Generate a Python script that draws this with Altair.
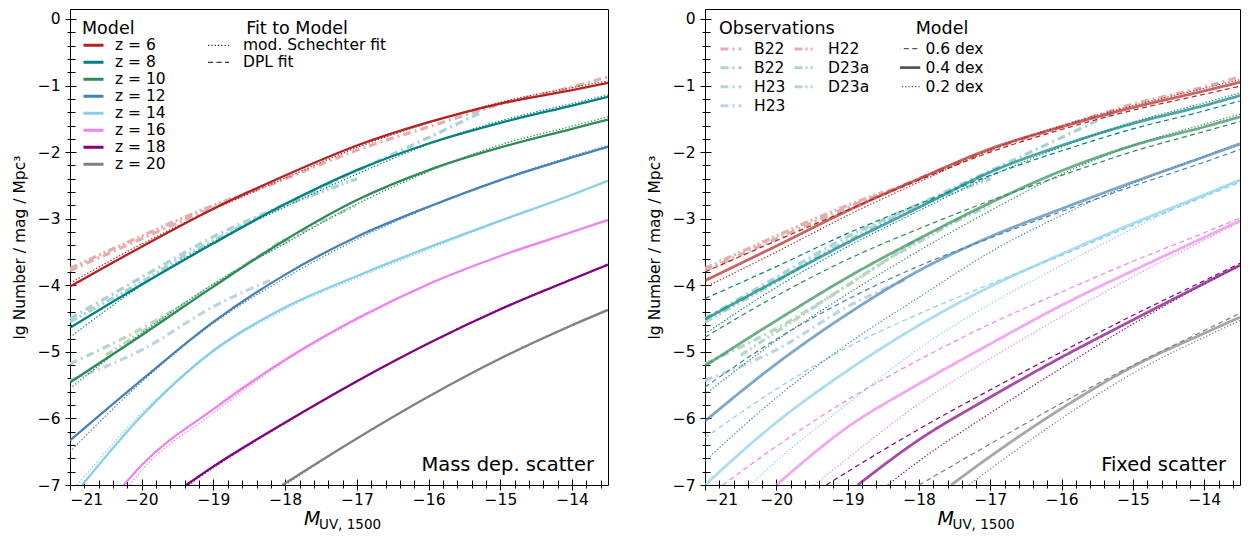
import altair as alt
import pandas as pd

FONT = "DejaVu Sans"

# ---------------- categories / styles ----------------
Z_LABELS = ["z = 6", "z = 8", "z = 10", "z = 12", "z = 14", "z = 16", "z = 18", "z = 20"]
Z_COLORS = ["#b22222", "#008080", "#2e8b57", "#4682b4", "#87ceeb", "#ee82ee", "#800080", "#808080"]

FIT_TYPES = ["mod. Schechter fit", "DPL fit"]
FIT_DASHES = [[1.3, 2], [5, 3.5]]

SIGMAS = ["0.6 dex", "0.4 dex", "0.2 dex"]
SIGMA_DASHES = [[5, 3.5], [1, 0], [1.3, 2]]
SIGMA_WIDTHS = {"0.6 dex": 1.2, "0.4 dex": 2.8, "0.2 dex": 1.2}
SIGMA_OPAC = {"0.6 dex": 1.0, "0.4 dex": 0.7, "0.2 dex": 1.0}

# legend fills column by column: B22, B22, H23, H23 | H22, D23a, D23a
OBS_KEYS = ["B22 z6", "B22 z8", "H23 z10", "H23 z12", "H22 z6", "D23a z8", "D23a z10"]
OBS_COLORS = ["#e6adad", "#a6d3d3", "#b6d7c4", "#bfd3e6", "#e6adad", "#a6d3d3", "#b6d7c4"]
DASHDOT = [8, 4, 2, 4]
DASHDOTDOT = [8, 3, 2, 3, 2, 3]
OBS_DASHES = [DASHDOT, DASHDOT, DASHDOT, DASHDOT, DASHDOTDOT, DASHDOTDOT, DASHDOTDOT]

PANEL_LABELS = ["Mass dep. scatter", "Fixed scatter"]
Y_TITLE = "lg Number / mag / Mpc\u00b3"
X_TITLE_MAIN = "M"
X_TITLE_SUB = "UV, 1500"

X_TICKS = [-21, -20, -19, -18, -17, -16, -15, -14]
Y_TICKS = [-7, -6, -5, -4, -3, -2, -1, 0]

LX = [-21, -20, -19, -18, -17, -16, -15, -14, -13.5]

# ---------------- left panel: model (mass dependent scatter) ----------------
left_model = {
    "z = 6": (LX, [-4.02, -3.42, -2.85, -2.35, -1.90, -1.55, -1.27, -1.07, -0.96]),
    "z = 8": (LX, [-4.64, -3.99, -3.37, -2.78, -2.27, -1.87, -1.56, -1.30, -1.17]),
    "z = 10": (LX, [-5.46, -4.75, -4.02, -3.32, -2.72, -2.27, -1.93, -1.65, -1.51]),
    "z = 12": (LX, [-6.33, -5.42, -4.55, -3.84, -3.27, -2.82, -2.42, -2.08, -1.92]),
    "z = 14": ([-20.83, -20, -19, -18, -17, -16, -15, -14, -13.5],
               [-7.0, -5.96, -4.98, -4.33, -3.86, -3.43, -3.03, -2.64, -2.43]),
    "z = 16": ([-20.25, -20, -19, -18, -17, -16, -15, -14, -13.5],
               [-7.0, -6.70, -5.86, -5.12, -4.50, -3.98, -3.56, -3.20, -3.02]),
    "z = 18": ([-19.38, -19, -18, -17, -16, -15, -14, -13.5],
               [-7.0, -6.72, -6.06, -5.44, -4.87, -4.36, -3.91, -3.69]),
    "z = 20": ([-18.04, -17, -16, -15, -14, -13.5],
               [-7.0, -6.30, -5.67, -5.10, -4.60, -4.37]),
}

left_schechter = {
    "z = 6": (LX, [-3.97, -3.38, -2.86, -2.39, -1.93, -1.56, -1.25, -1.03, -0.93]),
    "z = 8": (LX, [-4.78, -4.00, -3.35, -2.82, -2.33, -1.88, -1.53, -1.27, -1.14]),
    "z = 10": (LX, [-5.55, -4.72, -3.98, -3.37, -2.78, -2.29, -1.89, -1.61, -1.47]),
    "z = 12": (LX, [-6.50, -5.45, -4.57, -3.89, -3.31, -2.83, -2.41, -2.06, -1.90]),
    "z = 14": ([-20.90, -20, -19, -18, -17, -16, -15, -14, -13.5],
               [-7.0, -5.92, -5.00, -4.36, -3.89, -3.46, -3.04, -2.64, -2.42]),
    "z = 16": ([-20.17, -20, -19, -18, -17, -16, -15, -14, -13.5],
               [-7.0, -6.78, -5.92, -5.14, -4.52, -3.99, -3.56, -3.19, -3.01]),
    "z = 18": ([-19.35, -19, -18, -17, -16, -15, -14, -13.5],
               [-7.0, -6.74, -6.07, -5.44, -4.87, -4.35, -3.90, -3.68]),
    "z = 20": ([-18.00, -17, -16, -15, -14, -13.5],
               [-7.0, -6.30, -5.67, -5.09, -4.59, -4.36]),
}

# ---------------- right panel: fixed scatter models ----------------
right_04 = {
    "z = 6": (LX, [-3.93, -3.41, -2.88, -2.40, -1.95, -1.62, -1.33, -1.08, -0.95]),
    "z = 8": (LX, [-4.51, -3.93, -3.36, -2.83, -2.30, -1.90, -1.57, -1.30, -1.15]),
    "z = 10": (LX, [-5.21, -4.53, -3.88, -3.30, -2.76, -2.28, -1.90, -1.62, -1.47]),
    "z = 12": (LX, [-6.04, -5.18, -4.43, -3.78, -3.27, -2.85, -2.45, -2.07, -1.88]),
    "z = 14": (LX, [-7.0, -6.06, -5.28, -4.60, -4.02, -3.53, -3.07, -2.64, -2.42]),
    "z = 16": ([-20, -19, -18, -17, -16, -15, -14, -13.5],
               [-7.0, -6.13, -5.48, -4.88, -4.30, -3.78, -3.28, -3.03]),
    "z = 18": ([-18.86, -18, -17, -16, -15, -14, -13.5],
               [-7.0, -6.32, -5.68, -5.08, -4.52, -3.97, -3.70]),
    "z = 20": ([-17.55, -17, -16, -15, -14, -13.5],
               [-7.0, -6.57, -5.85, -5.22, -4.72, -4.48]),
}

right_06 = {
    "z = 6": (LX, [-3.80, -3.33, -2.87, -2.42, -2.00, -1.66, -1.37, -1.13, -1.01]),
    "z = 8": (LX, [-4.20, -3.72, -3.22, -2.78, -2.35, -1.98, -1.65, -1.38, -1.23]),
    "z = 10": (LX, [-4.78, -4.16, -3.61, -3.15, -2.73, -2.35, -1.99, -1.69, -1.54]),
    "z = 12": (LX, [-5.53, -4.81, -4.21, -3.71, -3.29, -2.89, -2.51, -2.15, -1.96]),
    "z = 14": (LX, [-6.29, -5.56, -4.93, -4.43, -3.98, -3.55, -3.10, -2.67, -2.45]),
    "z = 16": ([-20.75, -20, -19, -18, -17, -16, -15, -14, -13.5],
               [-7.0, -6.42, -5.72, -5.12, -4.58, -4.10, -3.64, -3.21, -2.99]),
    "z = 18": ([-19.30, -19, -18, -17, -16, -15, -14, -13.5],
               [-7.0, -6.80, -6.16, -5.57, -5.00, -4.45, -3.93, -3.67]),
    "z = 20": ([-18.00, -17, -16, -15, -14, -13.5],
               [-7.0, -6.38, -5.77, -5.20, -4.68, -4.42]),
}

right_02 = {
    "z = 6": (LX, [-4.03, -3.50, -2.95, -2.45, -1.97, -1.60, -1.30, -1.04, -0.91]),
    "z = 8": (LX, [-4.73, -4.03, -3.42, -2.88, -2.36, -1.92, -1.55, -1.26, -1.11]),
    "z = 10": (LX, [-5.64, -4.83, -4.13, -3.48, -2.88, -2.33, -1.90, -1.58, -1.43]),
    "z = 12": (LX, [-6.64, -5.69, -4.88, -4.18, -3.50, -2.95, -2.47, -2.06, -1.86]),
    "z = 14": ([-20.37, -20, -19, -18, -17, -16, -15, -14, -13.5],
               [-7.0, -6.64, -5.78, -4.95, -4.28, -3.70, -3.15, -2.65, -2.41]),
    "z = 16": ([-19.47, -19, -18, -17, -16, -15, -14, -13.5],
               [-7.0, -6.60, -5.78, -5.10, -4.47, -3.87, -3.32, -3.05]),
    "z = 18": ([-18.44, -18, -17, -16, -15, -14, -13.5],
               [-7.0, -6.64, -5.92, -5.24, -4.58, -3.98, -3.70]),
    "z = 20": ([-17.30, -17, -16, -15, -14, -13.5],
               [-7.0, -6.76, -6.00, -5.32, -4.78, -4.53]),
}

# ---------------- observations ----------------
observations = {
    "B22 z6": ([-21, -20, -19, -18, -17, -16, -15, -14, -13.5],
               [-3.78, -3.30, -2.83, -2.40, -1.97, -1.62, -1.28, -1.02, -0.87]),
    "H22 z6": ([-21, -20.5, -20, -19.5, -19, -18.5],
               [-3.75, -3.50, -3.26, -3.02, -2.80, -2.60]),
    "B22 z8": ([-21, -20, -19, -18, -17, -16, -15.28],
               [-4.50, -3.88, -3.27, -2.78, -2.28, -1.78, -1.41]),
    "D23a z8": ([-21, -20.5, -20, -19.5, -19, -18.5, -18, -17.5, -17],
                [-4.55, -4.25, -3.95, -3.62, -3.33, -3.05, -2.80, -2.60, -2.40]),
    "H23 z10": ([-21, -20, -19, -18],
                [-5.18, -4.65, -4.00, -3.30]),
    "D23a z10": ([-20.5, -20, -19.5, -19, -18.5, -18, -17.5, -17],
                 [-5.05, -4.70, -4.35, -4.00, -3.65, -3.35, -3.05, -2.80]),
    "H23 z12": ([-21, -20, -19, -18.2],
                [-5.43, -4.97, -4.32, -3.92]),
}


def to_df(d, **extra):
    rows = []
    for key, (xs, ys) in d.items():
        for x, y in zip(xs, ys):
            r = {"M": x, "lg": y, "key": key}
            r.update(extra)
            rows.append(r)
    return pd.DataFrame(rows)


left_model_df = to_df(left_model)
left_fit_df = to_df(left_schechter, fit=FIT_TYPES[0])
right_df = pd.concat([to_df(right_06, sigma=SIGMAS[0]),
                      to_df(right_04, sigma=SIGMAS[1]),
                      to_df(right_02, sigma=SIGMAS[2])], ignore_index=True)
right_df["sw"] = right_df["sigma"].map(SIGMA_WIDTHS)
right_df["op"] = right_df["sigma"].map(SIGMA_OPAC)
obs_df = to_df(observations)

W_L, W_R, H = 538, 535, 476

XS = alt.Scale(domain=[-21, -13.5], nice=False, zero=False)
YS = alt.Scale(domain=[-7, 0.15], nice=False, zero=False)
ZSCALE = alt.Scale(domain=Z_LABELS, range=Z_COLORS)
OBS_CSCALE = alt.Scale(domain=OBS_KEYS, range=OBS_COLORS)
OBS_DSCALE = alt.Scale(domain=OBS_KEYS, range=OBS_DASHES)

X_MINOR = [round(-21 + 0.2 * i, 1) for i in range(38)]
Y_MINOR = [round(-7 + 0.2 * i, 1) for i in range(36)]

LEG_COMMON = dict(orient="none", symbolType="stroke", padding=0, rowPadding=0,
                  labelFontSize=15.5, titleFontSize=17.5, titleFontWeight="normal",
                  labelColor="black", titleColor="black")


def x_major():
    return alt.Axis(orient="bottom", values=X_TICKS, format="d", tickSize=11, offset=-6,
                    domain=False, grid=False, labelFontSize=15.5, labelPadding=2,
                    tickColor="black", labelColor="black", tickWidth=1)


def x_minor():
    return alt.Axis(orient="bottom", values=X_MINOR, labels=False, tickSize=8, offset=-5,
                    domain=False, grid=False, tickColor="black", tickWidth=1)


def y_major():
    return alt.Axis(orient="left", values=Y_TICKS, format="d", tickSize=11, offset=-6,
                    domain=False, grid=False, labelFontSize=15.5, labelPadding=5,
                    tickColor="black", labelColor="black", tickWidth=1,
                    titleFontSize=15.5, titleFontWeight="normal",
                    titleColor="black", titlePadding=10)


def y_minor():
    return alt.Axis(orient="left", values=Y_MINOR, labels=False, tickSize=8, offset=-5,
                    domain=False, grid=False, tickColor="black", tickWidth=1)


def obs_layer(show_legend):
    if show_legend:
        leg = alt.Legend(title="Observations", legendX=14, legendY=10.5,
                         columns=2, columnPadding=7, clipHeight=18.4, titlePadding=2.5,
                         symbolSize=441, symbolStrokeWidth=3, labelOffset=11,
                         titleAnchor="start", labelExpr="split(datum.label, ' ')[0]",
                         **LEG_COMMON)
        color = alt.Color("key:N", scale=OBS_CSCALE, legend=leg)
        dash = alt.StrokeDash("key:N", scale=OBS_DSCALE, legend=leg)
        xa, ya = x_minor(), y_minor()
    else:
        color = alt.Color("key:N", scale=OBS_CSCALE, legend=None)
        dash = alt.StrokeDash("key:N", scale=OBS_DSCALE, legend=None)
        xa, ya = None, None
    return alt.Chart(obs_df).mark_line(clip=True, strokeWidth=3.2,
                                       interpolate="monotone").encode(
        x=alt.X("M:Q", scale=XS, axis=xa, title=None),
        y=alt.Y("lg:Q", scale=YS, axis=ya, title=None),
        color=color, strokeDash=dash)


def text_layers(width, label):
    tdf = pd.DataFrame({"t": [label], "m": [X_TITLE_MAIN], "s": [X_TITLE_SUB]})
    base = alt.Chart(tdf)
    ann = base.mark_text(align="right", baseline="alphabetic", fontSize=19.5,
                         font=FONT, color="black").encode(
        x=alt.value(width - 14), y=alt.value(H - 14), text="t:N")
    mt = base.mark_text(align="left", baseline="alphabetic", fontSize=19, font=FONT,
                        fontStyle="italic", color="black").encode(
        x=alt.value(width / 2 - 35), y=alt.value(H + 40), text="m:N")
    st = base.mark_text(align="left", baseline="alphabetic", fontSize=13.5, font=FONT,
                        color="black").encode(
        x=alt.value(width / 2 - 20), y=alt.value(H + 44), text="s:N")
    return [ann, mt, st]


# ---------------- left panel ----------------
model_leg = alt.Legend(title="Model", legendX=12, legendY=10.5, symbolSize=400,
                       symbolStrokeWidth=3, labelOffset=10, clipHeight=16.6,
                       titlePadding=0, titleAnchor="start", **LEG_COMMON)
fit_leg = alt.Legend(title="Fit to Model", legendX=137, legendY=10.5, symbolSize=441,
                     symbolStrokeWidth=1.2, symbolStrokeColor="#333333",
                     labelOffset=13, clipHeight=16.8, titlePadding=0,
                     titleAnchor="middle", **LEG_COMMON)

left_solid = alt.Chart(left_model_df).mark_line(
    clip=True, strokeWidth=2.3, interpolate="monotone").encode(
    x=alt.X("M:Q", scale=XS, axis=x_major(), title=None),
    y=alt.Y("lg:Q", scale=YS, axis=y_major(), title=Y_TITLE),
    color=alt.Color("key:N", scale=ZSCALE, legend=model_leg),
)
left_fit = alt.Chart(left_fit_df).mark_line(
    clip=True, strokeWidth=1.3, interpolate="monotone").encode(
    x=alt.X("M:Q", scale=XS, axis=x_minor(), title=None),
    y=alt.Y("lg:Q", scale=YS, axis=y_minor(), title=None),
    color=alt.Color("key:N", scale=ZSCALE, legend=None),
    strokeDash=alt.StrokeDash("fit:N", scale=alt.Scale(domain=FIT_TYPES, range=FIT_DASHES),
                              legend=fit_leg),
)

left = alt.layer(
    obs_layer(False), left_solid, left_fit, *text_layers(W_L, PANEL_LABELS[0])
).resolve_scale(color="independent", strokeDash="independent").resolve_axis(
    x="independent", y="independent").properties(width=W_L, height=H)

# ---------------- right panel ----------------
sigma_leg = alt.Legend(
    title="Model", legendX=195, legendY=10.5, symbolSize=625, symbolStrokeColor="#555555",
    symbolStrokeWidth=alt.ExprRef(expr="datum.value === '0.4 dex' ? 2.8 : 1.2"),
    labelOffset=10, clipHeight=18.4, titlePadding=2.5, titleAnchor="middle",
    **LEG_COMMON)

right_model = alt.Chart(right_df).mark_line(clip=True, interpolate="monotone").encode(
    x=alt.X("M:Q", scale=XS, axis=x_major(), title=None),
    y=alt.Y("lg:Q", scale=YS, axis=y_major(), title=Y_TITLE),
    color=alt.Color("key:N", scale=ZSCALE, legend=None),
    strokeDash=alt.StrokeDash("sigma:N", scale=alt.Scale(domain=SIGMAS, range=SIGMA_DASHES),
                              legend=sigma_leg),
    strokeWidth=alt.StrokeWidth("sw:Q", scale=None, legend=None),
    opacity=alt.Opacity("op:Q", scale=None, legend=None),
)

right = alt.layer(
    obs_layer(True), right_model, *text_layers(W_R, PANEL_LABELS[1])
).resolve_scale(color="independent", strokeDash="independent").resolve_axis(
    x="independent", y="independent").properties(width=W_R, height=H)

chart = alt.hconcat(left, right, spacing=37).properties(
    padding={"left": 3, "top": 0, "right": 0, "bottom": 0}
).configure(font=FONT).configure_view(stroke="black", strokeWidth=1).configure_axis(
    labelFont=FONT, titleFont=FONT).configure_legend(
    labelFont=FONT, titleFont=FONT, labelColor="black", titleColor="black")

chart.save("out.html", embed_options={"renderer": "svg", "actions": False})
